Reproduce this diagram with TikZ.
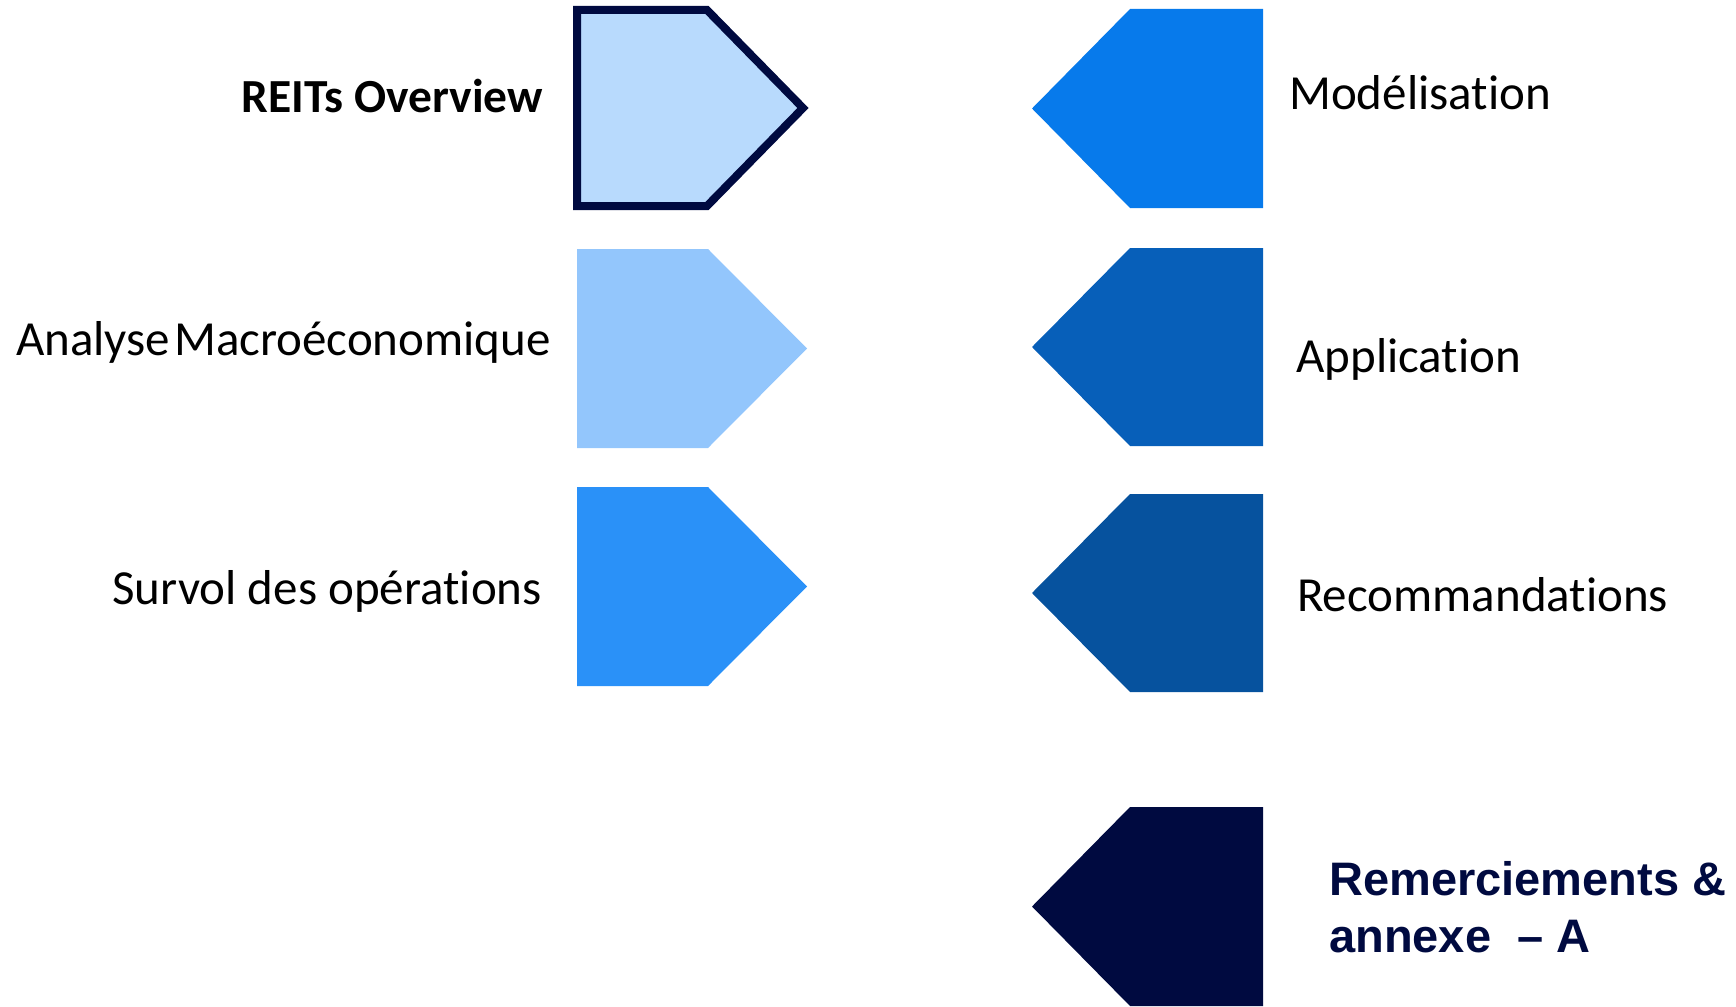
\documentclass[tikz,border=0pt]{standalone}
\usepackage{fontspec}
\setmainfont{Carlito}[Ligatures=CommonOff]
\newfontfamily\headfont{Liberation Sans}

\definecolor{navy}{HTML}{000A40}
\definecolor{paleblue}{HTML}{B8DAFD}
\definecolor{lightblue}{HTML}{93C6FC}
\definecolor{midblue}{HTML}{2A91F8}
\definecolor{brightblue}{HTML}{077AEB}
\definecolor{deepblue}{HTML}{075FB9}
\definecolor{darkblue}{HTML}{06529E}

\tikzset{
  lbl/.style={inner sep=0pt, font=\fontsize{49}{59}\selectfont, text=black},
  boldlbl/.style={inner sep=0pt, font=\bfseries\fontsize{47.5}{57}\selectfont, text=black},
  headlbl/.style={inner sep=0pt, font=\headfont\bfseries\fontsize{47}{57}\selectfont, text=navy, anchor=base west},
  tagfill/.style={line width=0pt, draw=none},
}

\begin{document}
\begin{tikzpicture}[x=1pt,y=-1pt]
  \useasboundingbox (0,0) rectangle (1736,1006);

  % left column: tags pointing right
  \filldraw[draw=navy, line width=8pt, fill=paleblue, line join=miter]
    (577,10) -- (707,10) -- (803,108) -- (707,206) -- (577,206) -- cycle;
  \fill[tagfill, fill=lightblue]
    (577,249) -- (708,249) -- (807,348.5) -- (708,448) -- (577,448) -- cycle;
  \fill[tagfill, fill=midblue]
    (577,487) -- (708,487) -- (807,586.5) -- (708,686) -- (577,686) -- cycle;

  % right column: tags pointing left
  \fill[tagfill, fill=brightblue]
    (1263,9) -- (1130,9) -- (1032,108.5) -- (1130,208) -- (1263,208) -- cycle;
  \fill[tagfill, fill=deepblue]
    (1263,248) -- (1130,248) -- (1032,347) -- (1130,446) -- (1263,446) -- cycle;
  \fill[tagfill, fill=darkblue]
    (1263,494) -- (1130,494) -- (1032,593) -- (1130,692) -- (1263,692) -- cycle;
  \fill[tagfill, fill=navy]
    (1263,807) -- (1130,807) -- (1032,906.5) -- (1130,1006) -- (1263,1006) -- cycle;

  % labels
  \node[boldlbl, anchor=base east] (reits) at (543,113) {REITs Overview};
  \node[lbl, anchor=base east] (macro) at (551,355) {Analyse\hspace{4pt}Macroéconomique};
  \node[lbl, anchor=base east] (ops) at (542,604) {Survol des opérations};

  \node[lbl, anchor=base west] (model) at (1289,110) {Modélisation};
  \node[lbl, anchor=base west] (appl) at (1296,372) {Application};
  \node[lbl, anchor=base west] (reco) at (1297,611) {Recommandations};

  \node[headlbl] (thanks) at (1329,895) {Remerciements \&};
  \node[headlbl] (annex) at (1329,952) {annexe \ – A};
\end{tikzpicture}
\end{document}
